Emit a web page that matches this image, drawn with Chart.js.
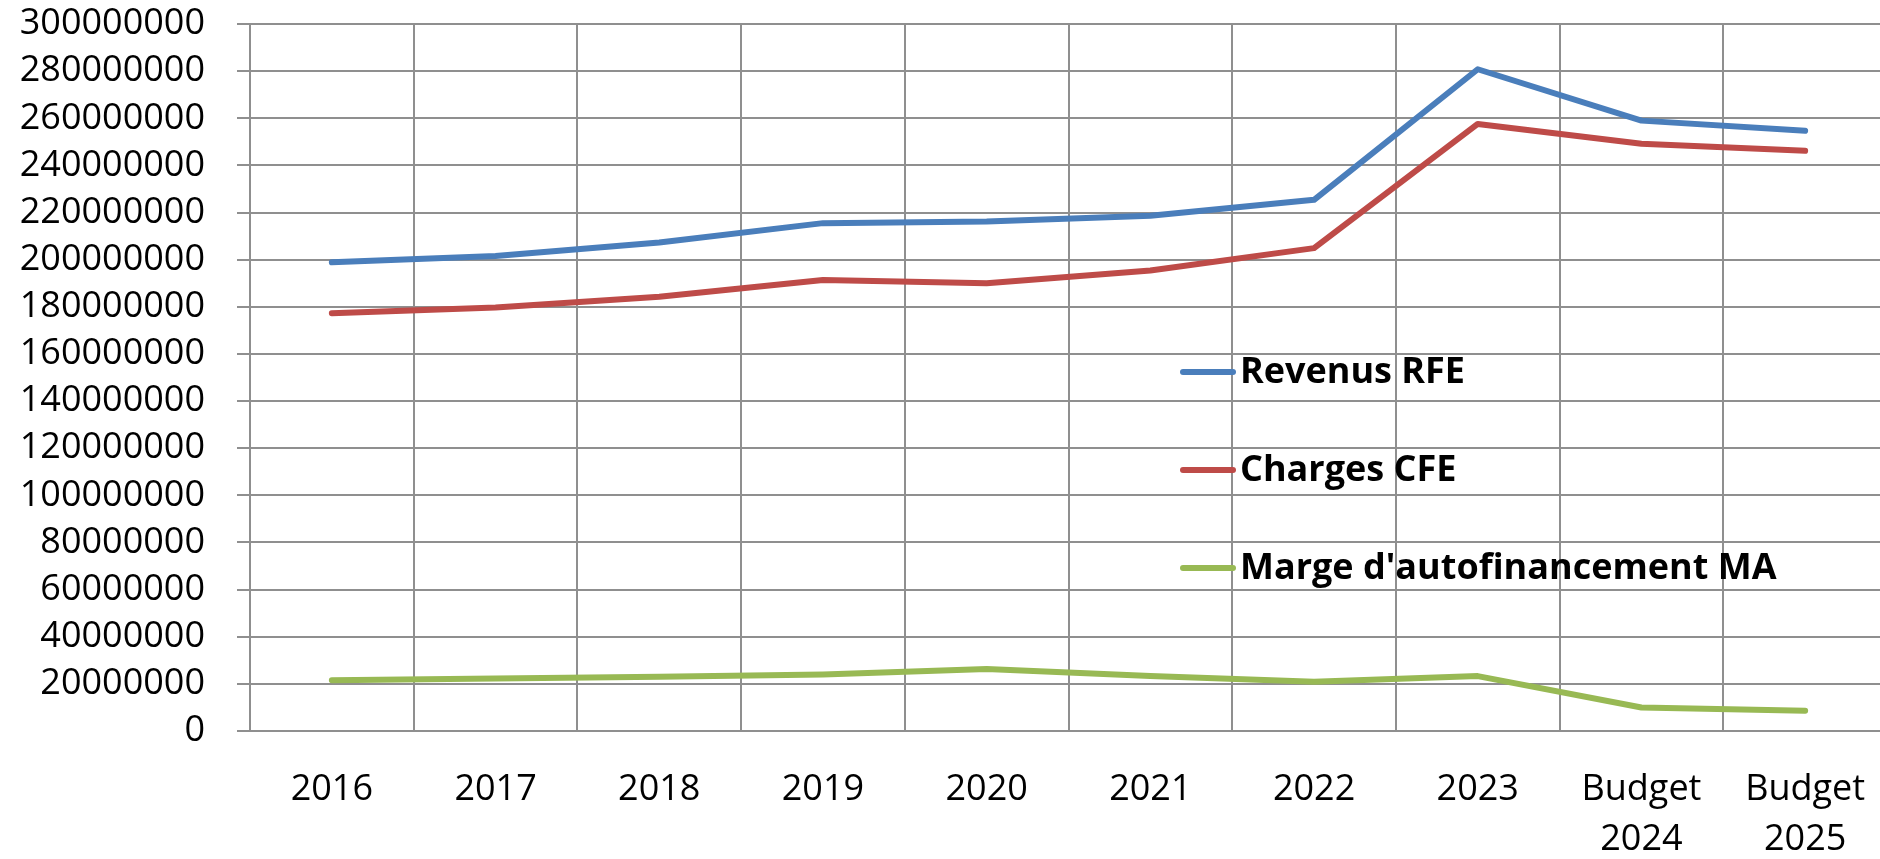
<!DOCTYPE html>
<html>
<head>
<meta charset="utf-8">
<script src="https://cdn.jsdelivr.net/npm/chart.js@4/dist/chart.umd.min.js"></script>
<style>
  html, body { margin: 0; padding: 0; background: #fff; overflow: hidden; }
  #wrap { width: 1900px; height: 859px; position: relative; }
</style>
</head>
<body>
<div id="wrap"><canvas id="chart"></canvas></div>
<script>
// data
const categories = ['2016', '2017', '2018', '2019', '2020', '2021', '2022', '2023', ['Budget', '2024'], ['Budget', '2025']];
const revenusRFE = [198900000, 201600000, 207300000, 215500000, 216200000, 218600000, 225400000, 280800000, 259000000, 254700000];
const chargesCFE = [177300000, 179700000, 184300000, 191400000, 190000000, 195400000, 204900000, 257600000, 249200000, 246200000];
const margeMA = [21500000, 22300000, 23000000, 24000000, 26300000, 23300000, 20900000, 23300000, 10000000, 8600000];
const seriesNames = ['Revenus RFE', 'Charges CFE', "Marge d'autofinancement MA"];
const yMin = 0, yMax = 300000000, yStep = 20000000;

const FONT = "'Open Sans', 'Noto Sans', sans-serif";
const colors = ['#4a7ebb', '#be4b48', '#98b954'];
const gridColor = '#8f8f8f';

// legend sits inside the plot, drawn over the grid
const insideLegend = {
  id: 'insideLegend',
  afterDatasetsDraw(chart) {
    const ctx = chart.ctx;
    const x0 = 1183, x1 = 1233, tx = 1240;
    const rows = [372, 470, 568];
    ctx.save();
    chart.data.datasets.forEach((ds, i) => {
      ctx.strokeStyle = ds.borderColor;
      ctx.lineWidth = 6;
      ctx.lineCap = 'round';
      ctx.beginPath();
      ctx.moveTo(x0, rows[i]);
      ctx.lineTo(x1, rows[i]);
      ctx.stroke();
      ctx.fillStyle = '#000';
      ctx.font = "bold 36px " + FONT;
      ctx.textBaseline = 'middle';
      ctx.textAlign = 'left';
      ctx.fillText(ds.label, tx, rows[i] + 1);
    });
    ctx.restore();
  }
};

const mkSet = (label, data, color) => ({
  label: label,
  data: data,
  borderColor: color,
  backgroundColor: color,
  borderWidth: 6,
  borderCapStyle: 'round',
  borderJoinStyle: 'round',
  pointRadius: 0,
  pointHoverRadius: 0,
  tension: 0,
  fill: false
});

new Chart(document.getElementById('chart'), {
  type: 'line',
  data: {
    labels: categories,
    datasets: [
      mkSet(seriesNames[0], revenusRFE, colors[0]),
      mkSet(seriesNames[1], chargesCFE, colors[1]),
      mkSet(seriesNames[2], margeMA, colors[2])
    ]
  },
  options: {
    responsive: true,
    maintainAspectRatio: false,
    animation: false,
    layout: { padding: { top: 24, right: 13, bottom: 0, left: 0 } },
    plugins: {
      legend: { display: false },
      tooltip: { enabled: false }
    },
    scales: {
      x: {
        offset: true,
        grid: { offset: true, color: gridColor, lineWidth: 2, drawTicks: false },
        border: { color: gridColor, width: 2 },
        ticks: {
          autoSkip: false,
          maxRotation: 0,
          padding: 34,
          color: '#000',
          font: { family: FONT, size: 36, lineHeight: 1.39 }
        },
        afterFit(scale) {
          scale.height = 128;
          scale.paddingLeft = 0;
          scale.paddingRight = 0;
        }
      },
      y: {
        min: yMin,
        max: yMax,
        grid: { color: gridColor, lineWidth: 2, tickLength: 13 },
        border: { color: gridColor, width: 2 },
        ticks: {
          stepSize: yStep,
          autoSkip: false,
          padding: 32,
          color: '#000',
          font: { family: FONT, size: 36 },
          callback: v => String(v)
        },
        afterFit(scale) {
          scale.width = 250;
          scale.paddingTop = 0;
          scale.paddingBottom = 0;
        }
      }
    }
  },
  plugins: [insideLegend]
});
</script>
</body>
</html>
